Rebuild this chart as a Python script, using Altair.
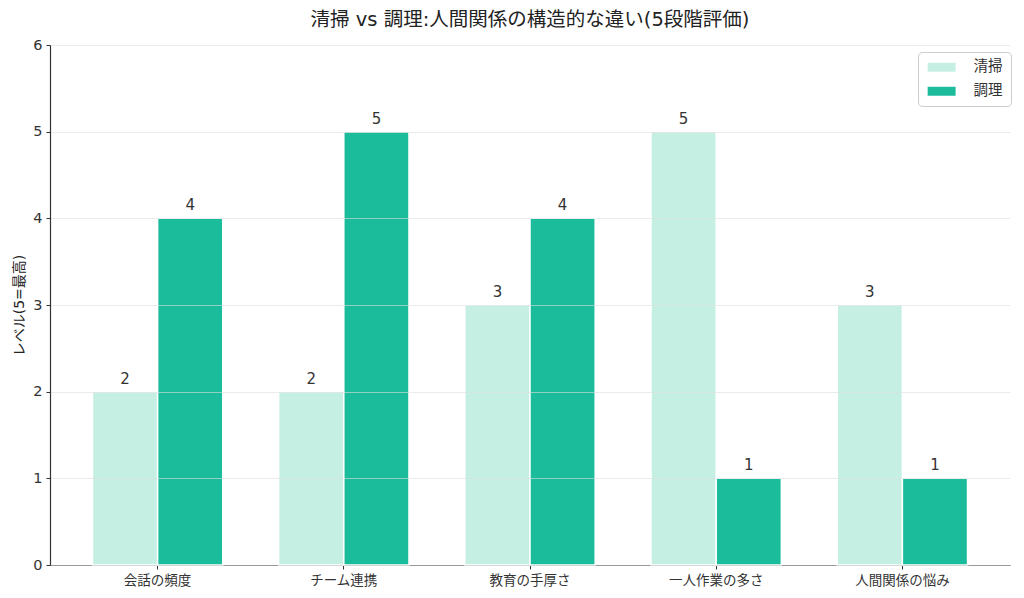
import altair as alt
import pandas as pd

categories = ["会話の頻度", "チーム連携", "教育の手厚さ", "一人作業の多さ", "人間関係の悩み"]
series = ["清掃", "調理"]
cleaning = [2, 2, 3, 5, 3]
cooking = [4, 5, 4, 1, 1]
colors = ["#c5efe3", "#1abc9c"]

rows = []
for c, a, b in zip(categories, cleaning, cooking):
    rows.append({"category": c, "series": series[0], "value": a})
    rows.append({"category": c, "series": series[1], "value": b})
df = pd.DataFrame(rows)

JP = "DejaVu Sans, Noto Sans CJK JP"
NUM = "DejaVu Sans"

x = alt.X("category:N", sort=categories, title=None,
          scale=alt.Scale(paddingInner=0.3, paddingOuter=0.228),
          axis=alt.Axis(labelAngle=0, labelFont=JP, labelFontSize=13.5, labelColor="#333333",
                        tickColor="#333333", tickSize=4, domainColor="#333333", domainWidth=1.2,
                        labelPadding=4, grid=False))
xo = alt.XOffset("series:N", sort=series, scale=alt.Scale(paddingInner=0, paddingOuter=0))
y = alt.Y("value:Q", title="レベル(5=最高)",
          scale=alt.Scale(domain=[0, 6], nice=False),
          axis=alt.Axis(values=[0, 1, 2, 3, 4, 5, 6], format="d", labelFont=NUM, labelFontSize=14.5,
                        labelColor="#333333", tickColor="#333333", tickSize=4, labelPadding=4,
                        domainColor="#333333", domainWidth=1.2, gridColor="#dddddd",
                        gridOpacity=0.6, zindex=1, titleFont=JP, titleFontSize=14,
                        titleFontWeight="normal", titleColor="#222222", titlePadding=6))

color = alt.Color("series:N", sort=series,
                  scale=alt.Scale(domain=series, range=colors),
                  legend=alt.Legend(title=None, orient="none", legendX=868, legendY=7,
                                    labelFont=JP, labelFontSize=14.5, labelColor="#333333",
                                    symbolType="M-1,-0.8L4,-0.8L4,0.8L-1,0.8Z",
                                    symbolSize=125, symbolStrokeWidth=0, labelOffset=33,
                                    padding=8, rowPadding=9, strokeColor="#cccccc",
                                    cornerRadius=4, fillColor="white"))

bars = alt.Chart(df).mark_bar(stroke="white", strokeWidth=1.5).encode(
    x=x, xOffset=xo, y=y, color=color)

labels = alt.Chart(df).mark_text(dy=-5, baseline="bottom", fontSize=15, font=NUM,
                                 color="#333333").encode(
    x=alt.X("category:N", sort=categories), xOffset=xo, y=alt.Y("value:Q"),
    text=alt.Text("value:Q"))

chart = alt.layer(bars, labels).properties(
    width=960, height=520,
    title=alt.TitleParams("清掃 vs 調理:人間関係の構造的な違い(5段階評価)", font=JP,
                          fontSize=19.5, fontWeight="normal", color="#222222", offset=7),
    autosize=alt.AutoSizeParams(type="none"),
    padding={"left": 50, "top": 45, "right": 14, "bottom": 33},
).configure_view(stroke=None)

chart.save("out.html", embed_options={"renderer": "svg", "actions": False})
